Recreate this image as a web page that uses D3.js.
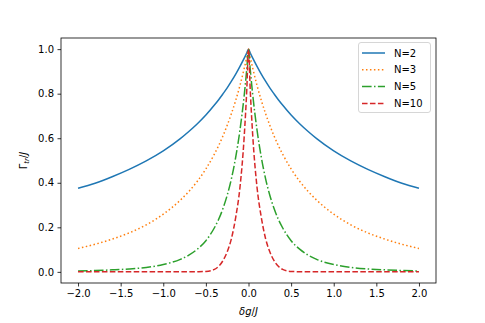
<!DOCTYPE html>
<html><head><meta charset="utf-8">
<script src="https://cdn.jsdelivr.net/npm/d3@7"></script>
<style>
body{margin:0;background:#fff;}
svg{display:block;font-family:"DejaVu Sans",sans-serif;}
</style></head>
<body>
<svg id="chart" width="485" height="323"></svg>
<script>
const xs = [-2.0,-1.8,-1.6,-1.4,-1.2,-1.0,-0.8,-0.7,-0.6,-0.5,-0.4,-0.35,-0.3,-0.25,-0.2,-0.15,-0.1,-0.05,-0.02,0,
            0.02,0.05,0.1,0.15,0.2,0.25,0.3,0.35,0.4,0.5,0.6,0.7,0.8,1.0,1.2,1.4,1.6,1.8,2.0];
const n2 = [0.375,0.398,0.427,0.460,0.498,0.543,0.598,0.630,0.665,0.704,0.749,0.773,0.799,0.826,0.856,0.888,0.923,0.960,0.983,1.0,
            0.983,0.960,0.923,0.888,0.856,0.826,0.799,0.773,0.749,0.704,0.665,0.630,0.598,0.543,0.498,0.460,0.427,0.398,0.375];
const n3 = [0.105,0.124,0.147,0.175,0.211,0.259,0.322,0.361,0.407,0.462,0.529,0.567,0.610,0.658,0.711,0.770,0.837,0.914,0.964,1.0,
            0.964,0.914,0.837,0.770,0.711,0.658,0.610,0.567,0.529,0.462,0.407,0.361,0.322,0.259,0.211,0.175,0.147,0.124,0.105];
const n5 = [0.004,0.006,0.009,0.013,0.020,0.033,0.056,0.075,0.102,0.140,0.198,0.236,0.284,0.344,0.419,0.515,0.637,0.794,0.911,1.0,
            0.911,0.794,0.637,0.515,0.419,0.344,0.284,0.236,0.198,0.140,0.102,0.075,0.056,0.033,0.020,0.013,0.009,0.006,0.004];
const n10 = [0,0,0,0,0,0,0,0,0.0005,0.002,0.011,0.025,0.05,0.09,0.15,0.245,0.38,0.61,0.82,1.0,
             0.82,0.61,0.38,0.245,0.15,0.09,0.05,0.025,0.011,0.002,0.0005,0,0,0,0,0,0,0,0];
const seriesNames = ["N=2","N=3","N=5","N=10"];
const xTicks = [-2.0,-1.5,-1.0,-0.5,0.0,0.5,1.0,1.5,2.0];
const yTicks = [0.0,0.2,0.4,0.6,0.8,1.0];

const series = [
  {name: seriesNames[0], values: n2, color: "#1f77b4", dash: null},
  {name: seriesNames[1], values: n3, color: "#ff7f0e", dash: "1.5,2.475"},
  {name: seriesNames[2], values: n5, color: "#2ca02c", dash: "9.6,2.4,1.5,2.4"},
  {name: seriesNames[3], values: n10, color: "#d62728", dash: "5.55,2.4"}
];

const L = 61, R = 436, T = 38, B = 283;
const svg = d3.select("#chart");
const x = d3.scaleLinear().domain([-2.2, 2.2]).range([L, R]);
const y = d3.scaleLinear().domain([-0.05, 1.05]).range([B, T]);
const fmt = d => d3.format(".1f")(d).replace("-", "\u2212");

const clip = svg.append("clipPath").attr("id","clip").append("rect")
  .attr("x", L).attr("y", T).attr("width", R-L).attr("height", B-T);

const line = d3.line().x((d,i)=>x(xs[i])).y(d=>y(d)).curve(d3.curveMonotoneX);
const g = svg.append("g").attr("clip-path","url(#clip)");
series.forEach(s => {
  g.append("path").attr("d", line(s.values)).attr("fill","none")
   .attr("stroke", s.color).attr("stroke-width",1.5)
   .attr("stroke-dasharray", s.dash).attr("stroke-linecap","butt");
});

// axes
const xAxis = d3.axisBottom(x).tickValues(xTicks).tickFormat(fmt).tickSize(3.5).tickPadding(3.5);
const yAxis = d3.axisLeft(y).tickValues(yTicks).tickFormat(fmt).tickSize(3.5).tickPadding(3.5);
const gx = svg.append("g").attr("transform",`translate(0,${B})`).call(xAxis);
const gy = svg.append("g").attr("transform",`translate(${L},0)`).call(yAxis);
[gx, gy].forEach(a => {
  a.select(".domain").remove();
  a.selectAll(".tick line").attr("stroke","#000").attr("stroke-width",0.8);
  a.selectAll(".tick text").attr("font-size",10).attr("fill","#000").attr("font-family","DejaVu Sans");
});
svg.append("rect").attr("x",L).attr("y",T).attr("width",R-L).attr("height",B-T)
  .attr("fill","none").attr("stroke","#000").attr("stroke-width",0.8);

// axis labels
const xl = svg.append("text").attr("x", (L+R)/2).attr("y", 315).attr("text-anchor","middle")
  .attr("font-size",10).attr("font-family","DejaVu Sans");
xl.append("tspan").attr("font-style","italic").text("δg");
xl.append("tspan").text("/");
xl.append("tspan").attr("font-style","italic").text("J");

const yl = svg.append("text").attr("transform",`translate(27,${(T+B)/2}) rotate(-90)`)
  .attr("text-anchor","middle").attr("font-size",10).attr("font-family","DejaVu Sans");
yl.append("tspan").text("Γ");
yl.append("tspan").attr("font-style","italic").attr("font-size",7).attr("dy",2).text("tr");
yl.append("tspan").attr("dy",-2).text("/");
yl.append("tspan").attr("font-style","italic").text("J");

// legend
const lg = svg.append("g");
lg.append("rect").attr("x",358.5).attr("y",42.5).attr("width",72).attr("height",70)
  .attr("rx",2.5).attr("fill","#fff").attr("fill-opacity",0.8).attr("stroke","#cccccc").attr("stroke-width",0.8);
series.forEach((s,i) => {
  const yy = 53 + i*16.8;
  lg.append("line").attr("x1",362).attr("x2",385).attr("y1",yy).attr("y2",yy)
    .attr("stroke",s.color).attr("stroke-width",1.5).attr("stroke-dasharray",s.dash);
  lg.append("text").attr("x",394).attr("y",yy+3.6).attr("font-size",10)
    .attr("font-family","DejaVu Sans").text(s.name);
});
</script>
</body></html>
